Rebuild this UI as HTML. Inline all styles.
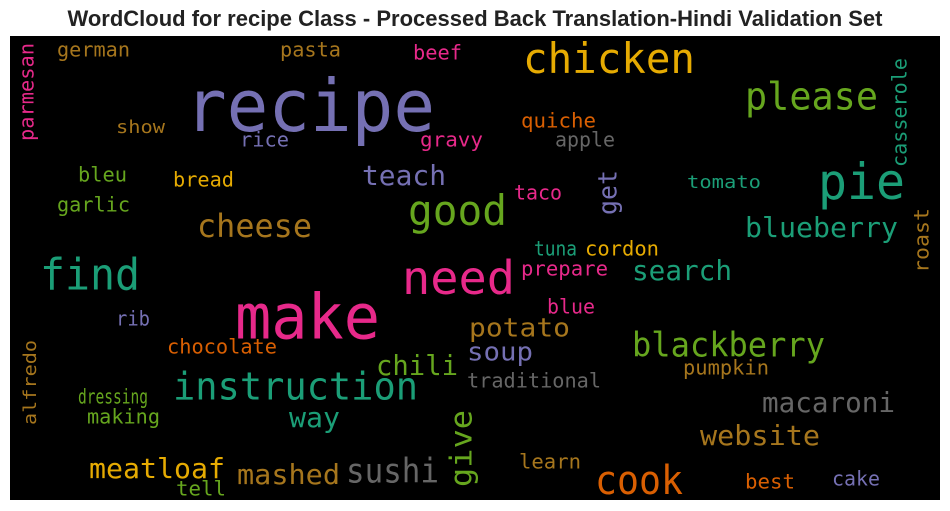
<!DOCTYPE html>
<html><head><meta charset="utf-8"><style>
html,body{margin:0;padding:0;background:#fff;width:950px;height:511px;overflow:hidden}
svg text{font-family:"DejaVu Sans Mono","Liberation Mono",monospace}
</style></head><body>
<svg id="c" width="950" height="511" xmlns="http://www.w3.org/2000/svg">
<text x="475" y="26" text-anchor="middle" font-size="22" font-weight="bold" fill="#222" style="font-family:'Liberation Sans',sans-serif">WordCloud for recipe Class - Processed Back Translation-Hindi Validation Set</text>
<rect x="10" y="36" width="930" height="464" fill="#000"/>
<g id="words"></g>
</svg>
<script>
const words=["recipe","chicken","please","pie","good","find","need","make","cheese","teach","get","blueberry","search","instruction","chili","soup","potato","blackberry","macaroni","website","way","give","sushi","mashed","meatloaf","cook","tell","learn","best","cake","making","dressing","alfredo","chocolate","rib","traditional","pumpkin","blue","prepare","tuna","cordon","roast","tomato","taco","casserole","bread","bleu","garlic","show","rice","gravy","quiche","apple","parmesan","german","pasta","beef"];
const sizes=[72,42,38,50,42,44,46,62,32,28,26,28,28,38,28,26,26,34,28,28,28,30,34,28,28,40,20,20,20,20,20,20,18,20,20,20,20,20,20,20,20,20,18,20,20,20,20,20,18,20,20,20,20,20,20,20,20];
const colorIdx=[2,5,4,0,4,0,3,3,6,2,2,0,0,0,4,2,6,4,7,6,0,4,7,6,5,1,4,6,1,2,4,4,6,1,2,7,6,3,3,0,5,6,0,3,0,5,4,4,6,2,3,1,7,3,6,6,3];
const rot=[0,0,0,0,0,0,0,0,0,0,1,0,0,0,0,0,0,0,0,0,0,1,0,0,0,0,0,0,0,0,0,0,1,0,0,0,0,0,0,0,0,1,0,0,1,0,0,0,0,0,0,0,0,1,0,0,0];
// bounding boxes [x0,y0,x1,y1]
const boxes=[[185,75,435,140],[523,40,695,80],[745,80,878,118],[818,160,905,205],[408,192,507,235],[40,255,140,290],[402,258,515,300],[235,290,380,345],[197,212,312,245],[362,163,446,192],[600,170,622,215],[745,215,898,245],[632,258,732,288],[173,370,418,408],[376,353,458,383],[467,340,533,370],[469,316,570,344],[632,330,825,365],[762,390,895,418],[700,423,820,451],[289,405,340,433],[450,410,478,487],[346,456,439,490],[237,462,340,493],[89,456,225,486],[595,463,683,500],[176,480,226,500],[519,453,581,475],[745,473,795,495],[832,470,880,493],[87,408,160,432],[78,388,148,411],[25,340,40,425],[167,338,277,361],[116,310,150,333],[467,372,601,395],[683,359,769,382],[547,298,595,321],[521,260,608,283],[534,240,577,262],[585,240,659,262],[915,208,933,273],[687,174,761,196],[514,184,562,207],[892,58,911,167],[173,171,234,194],[78,166,127,189],[57,196,130,219],[116,119,165,141],[240,131,289,154],[420,131,483,154],[521,112,596,135],[555,131,615,154],[20,43,38,141],[57,41,130,64],[280,41,341,64],[413,44,462,67]];
const palette=["#1b9e77","#d95f02","#7570b3","#e7298a","#66a61e","#e6ab02","#a6761d","#666666"];
const g=document.getElementById('words');
const NS='http://www.w3.org/2000/svg';
words.forEach((w,i)=>{
  const t=document.createElementNS(NS,'text');
  const b=boxes[i],s=sizes[i];
  t.textContent=w;
  t.setAttribute('font-size',s);
  t.setAttribute('fill',palette[colorIdx[i]]);
  t.setAttribute('lengthAdjust','spacingAndGlyphs');
  if(rot[i]){
    t.setAttribute('textLength',b[3]-b[1]);
    const bx=b[2]-0.22*s;
    t.setAttribute('transform','translate('+bx+','+b[3]+') rotate(-90)');
  }else{
    t.setAttribute('x',b[0]);
    t.setAttribute('y',b[1]+(b[3]-b[1])*0.0+0.78*s);
    t.setAttribute('textLength',b[2]-b[0]);
  }
  
  
  g.appendChild(t);
});
</script>
</body></html>
